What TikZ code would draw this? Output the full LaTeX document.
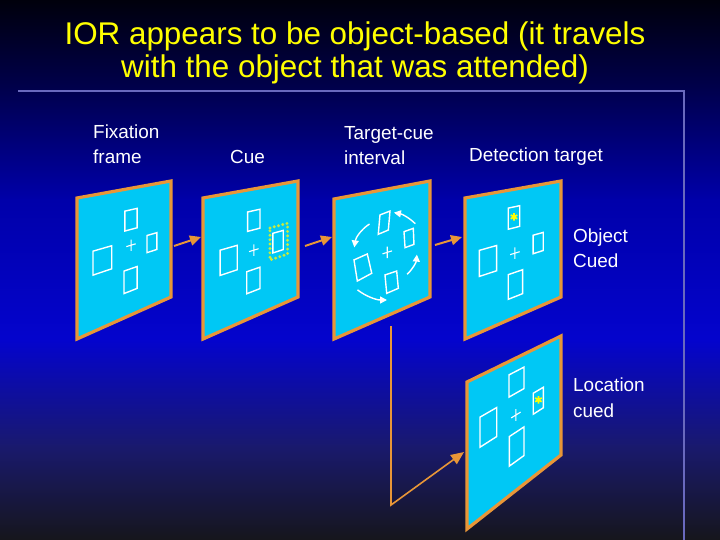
\documentclass[tikz,border=0pt]{standalone}
\usepackage{fontspec}
\setmainfont{Liberation Sans}
\usetikzlibrary{arrows.meta}
\definecolor{panelfill}{RGB}{0,200,245}
\definecolor{panelborder}{RGB}{232,150,55}
\definecolor{titleyellow}{RGB}{255,255,0}
\definecolor{cuegreen}{RGB}{200,235,60}
\definecolor{rulecol}{RGB}{105,105,190}
\definecolor{bgA}{RGB}{0,0,12}
\definecolor{bgB}{RGB}{0,0,78}
\definecolor{bgC}{RGB}{0,0,170}
\definecolor{bgD}{RGB}{4,4,205}
\definecolor{bgE}{RGB}{25,25,110}
\definecolor{bgF}{RGB}{22,22,28}

% panel corner numbers: TLx TLy TRx TRy BRx BRy BLx BLy
\newcommand\setpanel[8]{\def\pTLx{#1}\def\pTLy{#2}\def\pTRx{#3}\def\pTRy{#4}%
  \def\pBRx{#5}\def\pBRy{#6}\def\pBLx{#7}\def\pBLy{#8}}
% bilinear point inside the current panel
\newcommand\uvpt[3]{%
  \pgfmathsetmacro\tmpx{(1-(#3))*((1-(#2))*\pTLx+(#2)*\pTRx)+(#3)*((1-(#2))*\pBLx+(#2)*\pBRx)}%
  \pgfmathsetmacro\tmpy{(1-(#3))*((1-(#2))*\pTLy+(#2)*\pTRy)+(#3)*((1-(#2))*\pBLy+(#2)*\pBRy)}%
  \coordinate (#1) at (\tmpx,\tmpy);}
\newcommand\drawpanel[1]{%
  \coordinate (#1-tl) at (\pTLx,\pTLy);
  \coordinate (#1-tr) at (\pTRx,\pTRy);
  \coordinate (#1-br) at (\pBRx,\pBRy);
  \coordinate (#1-bl) at (\pBLx,\pBLy);
  \draw[panel] (#1-tl) -- (#1-tr) -- (#1-br) -- (#1-bl) -- cycle;}
% object square: u0 u1 v0 v1
\newcommand\objsq[4]{%
  \uvpt{qa}{#1}{#3}\uvpt{qb}{#2}{#3}\uvpt{qc}{#2}{#4}\uvpt{qd}{#1}{#4}%
  \draw[sqline] (qa) -- (qb) -- (qc) -- (qd) -- cycle;}
% object quad: four (u,v) corners
\newcommand\objquad[8]{%
  \uvpt{qa}{#1}{#2}\uvpt{qb}{#3}{#4}\uvpt{qc}{#5}{#6}\uvpt{qd}{#7}{#8}%
  \draw[sqline] (qa) -- (qb) -- (qc) -- (qd) -- cycle;}
\newcommand\fixplus[2]{%
  \uvpt{fa}{#1-0.05}{#2}\uvpt{fb}{#1+0.05}{#2}%
  \uvpt{fc}{#1}{#2-0.045}\uvpt{fd}{#1}{#2+0.045}%
  \draw[plusline] (fa) -- (fb) (fc) -- (fd);}
\newcommand\astmark[2]{%
  \uvpt{ac}{#1}{#2}%
  \draw[astline] ([shift={(90:3.8)}]ac) -- ([shift={(270:3.8)}]ac)
                 ([shift={(30:3.8)}]ac) -- ([shift={(210:3.8)}]ac)
                 ([shift={(150:3.8)}]ac) -- ([shift={(330:3.8)}]ac);}

\begin{document}
\begin{tikzpicture}[x=1bp,y=-1bp,
  panel/.style={fill=panelfill,draw=panelborder,line width=3.2bp,line join=miter},
  sqline/.style={draw=white,line width=1.4bp,line join=miter},
  plusline/.style={draw=white,line width=1.1bp},
  astline/.style={draw=titleyellow,line width=1.7bp},
  cuedots/.style={draw=cuegreen,line width=3.2bp,line cap=round,dash pattern=on 0bp off 4.4bp},
  oarrow/.style={draw=panelborder,line width=2bp,-{Triangle[length=11bp,width=10bp]}},
  oline/.style={draw=panelborder,line width=1.6bp,line join=miter,-{Triangle[length=13bp,width=11bp]}},
  rotarrow/.style={draw=white,line width=1.4bp,-{Triangle[length=7bp,width=7bp]}},
  ttl/.style={anchor=base,align=center,inner sep=0,text=titleyellow,font=\fontsize{31.5}{34}\selectfont},
  lbl/.style={anchor=base west,align=left,inner sep=0,text=white,font=\fontsize{19}{25.5}\selectfont},
  rulestyle/.style={draw=rulecol,line width=1.2bp}]
\useasboundingbox (0,0) rectangle (720,540);
% background
\shade[top color=bgA,bottom color=bgB] (0,0) rectangle (720,91);
\shade[top color=bgB,bottom color=bgC] (0,90) rectangle (720,201);
\shade[top color=bgC,bottom color=bgD] (0,200) rectangle (720,341);
\shade[top color=bgD,bottom color=bgE] (0,340) rectangle (720,446);
\shade[top color=bgE,bottom color=bgF] (0,445) rectangle (720,540);
% rules
\coordinate (r1) at (18,91);
\coordinate (r2) at (684,91);
\coordinate (r3) at (684,540);
\draw[rulestyle] (r1) -- (r2) -- (r3);

% title (anchor = baseline of the last line)
\node[ttl] (title) at (355,78) {IOR appears to be object-based (it travels\\with the object that was attended)};

% labels (anchor = baseline of the last line)
\node[lbl] (lfix) at (93,164) {Fixation\\frame};
\node[lbl] (lcue) at (230,164) {Cue};
\node[lbl] (ltci) at (344,165) {Target-cue\\interval};
\node[lbl] (ldet) at (469,162) {Detection target};
\node[lbl] (lobj) at (573,268) {Object\\Cued};
\node[lbl] (lloc) at (573,417) {Location\\cued};

% panel 1: fixation frame
\setpanel{77}{198}{171}{181}{171}{297}{77}{339}
\drawpanel{p1}
\objsq{.51}{.64}{.17}{.325}
\objsq{.745}{.85}{.41}{.55}
\objsq{.17}{.37}{.41}{.585}
\objsq{.5}{.64}{.635}{.81}
\fixplus{.575}{.45}

% panel 2: cue
\setpanel{203}{198}{298}{181}{298}{297}{203}{339}
\drawpanel{p2}
\objsq{.47}{.60}{.17}{.32}
\objsq{.735}{.845}{.39}{.55}
\objsq{.18}{.36}{.405}{.59}
\objsq{.46}{.60}{.63}{.80}
\fixplus{.535}{.48}
\uvpt{da}{.705}{.34}\uvpt{db}{.89}{.34}\uvpt{dc}{.89}{.60}\uvpt{dd}{.705}{.60}
\draw[cuedots] (da) -- (db) -- (dc) -- (dd) -- cycle;

% panel 3: target-cue interval (objects rotate)
\setpanel{334}{199}{430}{181}{430}{297}{334}{339}
\drawpanel{p3}
\objquad{.479}{.191}{.583}{.179}{.566}{.326}{.461}{.338}
\objquad{.729}{.374}{.826}{.368}{.833}{.503}{.74}{.507}
\objquad{.208}{.479}{.347}{.465}{.393}{.623}{.243}{.644}
\objquad{.531}{.672}{.653}{.674}{.67}{.818}{.549}{.822}
\fixplus{.555}{.5}
\coordinate (rc) at (387,252);
\draw[rotarrow] ([shift={(-45:40)}]rc) arc[start angle=-45,end angle=-80,radius=40];
\draw[rotarrow] ([shift={(-122:33)}]rc) arc[start angle=-122,end angle=-172,radius=33];
\draw[rotarrow] ([shift={(-232:48)}]rc) arc[start angle=-232,end angle=-270,radius=48];
\draw[rotarrow] ([shift={(-312:30)}]rc) arc[start angle=-312,end angle=-355,radius=30];

% panel 4: detection target, object cued
\setpanel{465}{198}{561}{181}{561}{297}{465}{339}
\drawpanel{p4}
\objsq{.45}{.57}{.137}{.30}
\objsq{.71}{.815}{.40}{.55}
\objsq{.15}{.33}{.40}{.59}
\objsq{.45}{.60}{.65}{.84}
\fixplus{.52}{.50}
\astmark{.51}{.215}

% panel 5: detection target, location cued
\setpanel{467}{382}{561}{336}{561}{455}{467}{529}
\drawpanel{p5}
\objsq{.447}{.606}{.10}{.265}
\objsq{.705}{.812}{.343}{.508}
\objsq{.138}{.316}{.29}{.50}
\objsq{.45}{.606}{.56}{.78}
\fixplus{.52}{.43}
\astmark{.76}{.42}

% connectors
\coordinate (a1s) at (174,246); \coordinate (a1e) at (201,237);
\coordinate (a2s) at (305,246); \coordinate (a2e) at (332,237);
\coordinate (a3s) at (435,245); \coordinate (a3e) at (462,237);
\draw[oarrow] (a1s) -- (a1e);
\draw[oarrow] (a2s) -- (a2e);
\draw[oarrow] (a3s) -- (a3e);
\coordinate (ls) at (391,326);
\coordinate (lc) at (391,505);
\coordinate (le) at (464,452);
\draw[oline] (ls) -- (lc) -- (le);
\end{tikzpicture}
\end{document}
